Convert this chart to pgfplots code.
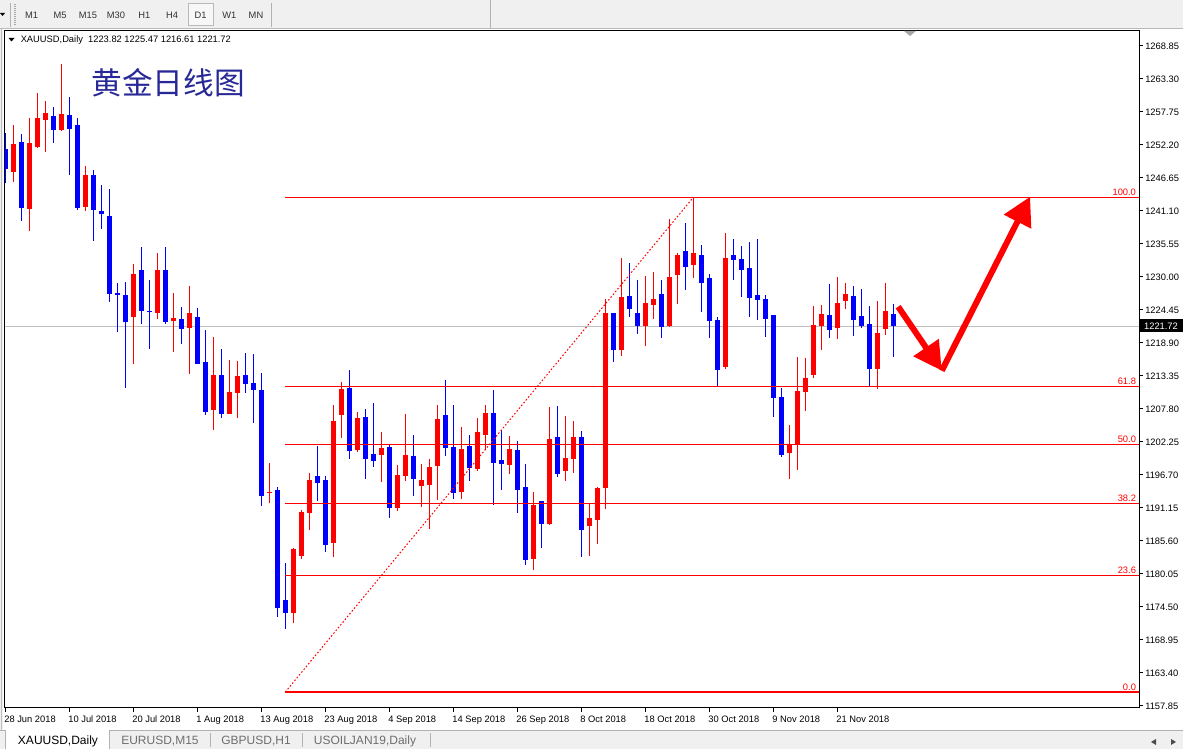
\documentclass[border=0pt]{standalone}
\usepackage{fontspec}
\setmainfont{Liberation Sans}
\newfontfamily\cjk{Noto Sans CJK SC}
\usepackage{pgfplots}
\pgfplotsset{compat=1.18}
\usepackage{pgfplotstable}
\usetikzlibrary{arrows.meta}
\definecolor{bull}{RGB}{255,0,0}
\definecolor{bear}{RGB}{0,0,255}
\definecolor{winbg}{RGB}{240,240,240}
\definecolor{bidgray}{RGB}{192,192,192}
\definecolor{titleblue}{RGB}{40,40,150}
\definecolor{tabgray}{RGB}{110,110,110}
\newcommand{\sm}{\fontsize{7}{8.4}\selectfont}

% bullish (red) candles: bar index, open, high, low, close
\pgfplotstableread{
k O H L C
1 1247.71 1255.56 1246.03 1252.37
3 1241.49 1256.74 1237.79 1252.54
4 1251.91 1260.95 1251.75 1256.74
5 1256.45 1259.60 1251.07 1257.58
7 1254.77 1265.82 1254.61 1257.41
10 1241.82 1248.67 1241.15 1247.15
16 1223.32 1232.19 1215.42 1230.50
19 1224.00 1234.04 1222.99 1231.18
21 1222.65 1227.31 1217.44 1223.10
23 1221.47 1228.49 1213.74 1223.94
26 1207.68 1219.91 1204.32 1213.52
28 1207.01 1216.04 1207.01 1210.66
29 1210.54 1215.87 1206.34 1213.35
33 1193.72 1198.67 1191.91 1193.90
36 1173.54 1184.37 1171.76 1184.25
37 1183.13 1190.81 1182.62 1190.48
38 1190.36 1197.04 1187.50 1195.86
41 1185.31 1208.47 1182.96 1205.78
42 1206.84 1212.34 1202.97 1211.16
44 1200.96 1207.30 1200.62 1206.29
47 1200.11 1203.93 1195.57 1201.24
49 1191.20 1198.38 1190.70 1196.70
50 1196.58 1207.01 1195.74 1200.06
52 1194.90 1198.55 1191.37 1195.86
53 1195.07 1199.39 1187.67 1198.05
54 1198.26 1208.47 1192.55 1206.12
57 1193.89 1204.77 1192.71 1201.07
59 1197.76 1206.29 1197.42 1203.93
60 1203.48 1208.47 1200.90 1207.13
63 1198.43 1203.26 1196.92 1201.07
66 1182.62 1193.89 1180.72 1191.70
68 1188.51 1208.14 1188.29 1202.75
70 1197.42 1206.62 1195.74 1199.56
71 1199.44 1205.78 1197.09 1203.09
73 1188.17 1191.99 1183.13 1189.47
74 1189.18 1194.73 1185.15 1194.56
75 1194.56 1226.30 1191.03 1223.94
77 1217.77 1233.20 1216.76 1226.64
80 1221.81 1230.17 1218.45 1225.63
81 1225.29 1230.84 1222.99 1226.30
83 1221.81 1239.75 1221.64 1230.00
84 1230.39 1234.04 1225.51 1233.70
86 1232.07 1243.40 1229.88 1234.04
90 1214.91 1237.40 1214.58 1233.20
98 1200.45 1205.11 1196.03 1201.91
99 1201.96 1216.55 1197.54 1210.83
100 1210.71 1216.38 1207.51 1213.01
101 1213.57 1225.12 1213.06 1221.93
102 1221.81 1225.29 1217.77 1223.78
104 1221.47 1230.00 1219.62 1225.63
105 1226.01 1228.99 1224.67 1227.14
109 1214.58 1225.96 1211.21 1220.58
110 1221.30 1228.99 1220.30 1224.28
}\bulltab

% bearish (blue) candles: bar index, open, high, low, close
\pgfplotstableread{
k O H L C
0 1251.48 1254.17 1245.76 1248.11
2 1252.70 1254.05 1239.47 1241.65
6 1257.08 1258.59 1252.59 1254.77
8 1257.25 1260.27 1247.21 1254.94
9 1255.56 1256.74 1241.32 1241.65
11 1247.15 1248.00 1236.10 1241.32
12 1241.15 1245.47 1238.12 1240.65
13 1240.26 1244.80 1225.85 1227.19
14 1227.36 1228.99 1220.80 1227.02
15 1227.02 1229.16 1211.28 1222.48
17 1231.18 1235.05 1222.10 1224.33
18 1224.33 1229.50 1217.94 1224.11
20 1231.18 1235.05 1222.15 1222.48
22 1222.94 1224.95 1218.78 1221.30
24 1223.27 1224.79 1215.42 1215.42
25 1215.70 1221.09 1206.84 1207.35
27 1213.52 1217.89 1206.34 1207.01
30 1213.52 1217.22 1210.54 1212.06
31 1212.17 1217.05 1205.50 1211.05
32 1210.99 1213.85 1191.54 1193.22
34 1194.18 1194.68 1172.87 1174.38
35 1175.68 1181.90 1170.75 1173.54
39 1196.53 1201.63 1192.38 1195.41
40 1195.86 1196.53 1183.80 1184.98
43 1211.38 1214.36 1199.44 1200.79
45 1206.45 1207.80 1196.08 1199.44
46 1200.23 1208.81 1198.10 1199.10
48 1201.41 1201.91 1189.52 1191.20
51 1199.90 1203.43 1193.22 1196.08
55 1206.79 1212.68 1199.95 1201.29
56 1201.41 1208.47 1192.71 1193.72
58 1201.63 1203.43 1195.74 1197.93
61 1207.13 1210.99 1191.70 1198.77
62 1199.27 1204.27 1194.23 1198.60
64 1200.90 1202.42 1190.36 1194.23
65 1194.68 1198.55 1181.61 1182.46
67 1192.33 1192.33 1184.47 1188.51
69 1203.09 1208.30 1196.41 1196.92
72 1203.09 1204.10 1182.96 1187.50
76 1223.94 1223.94 1215.75 1217.77
78 1226.80 1232.35 1223.32 1224.67
79 1223.94 1229.50 1220.46 1221.81
82 1227.14 1229.50 1219.79 1221.64
85 1234.37 1239.08 1227.86 1231.73
87 1233.70 1235.38 1224.16 1229.04
88 1229.83 1230.50 1219.79 1222.65
89 1222.77 1223.27 1211.72 1214.41
91 1233.70 1236.39 1229.55 1232.91
92 1233.03 1235.21 1226.69 1231.23
93 1231.51 1235.89 1223.32 1226.52
94 1226.97 1236.39 1222.82 1226.18
95 1226.30 1226.97 1219.96 1222.99
96 1223.61 1223.61 1206.51 1209.70
97 1209.82 1211.33 1199.78 1200.11
103 1223.61 1228.82 1219.79 1221.14
106 1226.80 1228.49 1220.13 1222.82
107 1223.44 1227.98 1221.47 1221.81
108 1222.10 1225.12 1211.72 1214.58
111 1223.82 1225.47 1216.61 1221.72
}\beartab

\begin{document}
\begin{tikzpicture}[x=0.75pt,y=0.75pt]
\path[use as bounding box] (0,0) rectangle (1183,749);
\fill[winbg] (0,0) rectangle (1183,749);
% toolbar
\draw[gray!55] (0,720.5) -- (1183,720.5);
\fill[black] (0,736) -- (5,736) -- (2.5,733) -- cycle;
\draw[gray!60] (10.5,722) -- (10.5,746);
\foreach \yy in {724,726,...,744} {\fill[gray!70] (14,\yy) rectangle (16,\yy+1);}
\draw[gray!60] (271.5,722) -- (271.5,746);
\draw[gray!60] (490.5,721) -- (490.5,749);
\draw[gray!55, fill=white!94!gray] (188,724) rectangle (213,746);
\foreach \xx/\lab in {31.7/M1, 60/M5, 88/M15, 116/M30, 144.3/H1, 172/H4, 200.7/D1, 229.3/W1, 256/MN}
  {\node[font=\sm, text=black!80] at (\xx,734) {\lab};}
% chart window
\fill[white] (3,19) rectangle (1183,720);
\draw[gray!50] (1.5,19) -- (1.5,721);
% bottom tab bar
\draw[gray!60] (0,18.5) -- (1183,18.5);
\fill[white] (5,0) rectangle (109,19);
\draw[gray!60] (5,0) -- (5,18.5) (109.5,0) -- (109.5,18.5);
\draw[gray!60] (210.5,2) -- (210.5,16) (302.5,2) -- (302.5,16) (430.5,2) -- (430.5,16);
\node[font=\fontsize{9}{10}\selectfont] at (58,7.5) {XAUUSD,Daily};
\node[font=\fontsize{9}{10}\selectfont, text=tabgray] at (160,7.5) {EURUSD,M15};
\node[font=\fontsize{9}{10}\selectfont, text=tabgray] at (256,7.5) {GBPUSD,H1};
\node[font=\fontsize{9}{10}\selectfont, text=tabgray] at (365,7.5) {USOILJAN19,Daily};
\fill[black!70] (1151,7) -- (1156,10) -- (1156,4) -- cycle;
\fill[black!70] (1176,7) -- (1171,10) -- (1171,4) -- cycle;

\begin{axis}[
  at={(3.375pt,30.75pt)}, anchor=south west,
  scale only axis, width=850.875pt, height=507.75pt,
  xmin=-0.1, xmax=141.7, ymin=1157.51, ymax=1271.37,
  axis line style={black, line width=0.75pt},
  tick align=outside, major tick length=3pt,
  tick style={black, line width=0.75pt},
  xtick pos=left, ytick pos=right, yticklabel pos=right,
  xtick={0,8,...,104},
  xticklabels={28 Jun 2018, 10 Jul 2018, 20 Jul 2018, 1 Aug 2018, 13 Aug 2018, 23 Aug 2018, 4 Sep 2018, 14 Sep 2018, 26 Sep 2018, 8 Oct 2018, 18 Oct 2018, 30 Oct 2018, 9 Nov 2018, 21 Nov 2018},
  ytick={1157.85,1163.40,1168.95,1174.50,1180.05,1185.60,1191.15,1196.70,1202.25,1207.80,1213.35,1218.90,1224.45,1230.00,1235.55,1241.10,1246.65,1252.20,1257.75,1263.30,1268.85},
  yticklabels={1157.85,1163.40,1168.95,1174.50,1180.05,1185.60,1191.15,1196.70,1202.25,1207.80,1213.35,1218.90,1224.45,1230.00,1235.55,1241.10,1246.65,1252.20,1257.75,1263.30,1268.85},
  xticklabel style={font=\sm, anchor=north west, inner sep=0pt, xshift=-0.9pt},
  xticklabel shift=2.5pt,
  yticklabel style={font=\sm, anchor=west, inner sep=0pt},
  yticklabel shift=1.5pt,
  minor tick num=0,
]
% bid line
\addplot[bidgray, line width=0.75pt, forget plot] coordinates {(-0.1,1221.72) (141.7,1221.72)};
% wicks
\addplot[draw=none, mark=none, forget plot, error bars/.cd, y dir=plus, y explicit, error mark=none,
  error bar style={draw=bull, line width=0.75pt}]
  table[x=k, y=L, y error expr=\thisrow{H}-\thisrow{L}] {\bulltab};
\addplot[draw=none, mark=none, forget plot, error bars/.cd, y dir=plus, y explicit, error mark=none,
  error bar style={draw=bear, line width=0.75pt}]
  table[x=k, y=L, y error expr=\thisrow{H}-\thisrow{L}] {\beartab};
% bodies
\addplot[draw=none, mark=none, forget plot, error bars/.cd, y dir=plus, y explicit, error mark=none,
  error bar style={draw=bull, line width=3.75pt}]
  table[x=k, y=O, y error expr=\thisrow{C}-\thisrow{O}] {\bulltab};
\addplot[draw=none, mark=none, forget plot, error bars/.cd, y dir=plus, y explicit, error mark=none,
  error bar style={draw=bear, line width=3.75pt}]
  table[x=k, y=C, y error expr=\thisrow{O}-\thisrow{C}] {\beartab};
% fibonacci levels
\addplot[bull, line width=0.75pt, forget plot] coordinates {(35,1243.40) (141.7,1243.40)};
\addplot[bull, line width=0.75pt, forget plot] coordinates {(35,1211.62) (141.7,1211.62)};
\addplot[bull, line width=0.75pt, forget plot] coordinates {(35,1201.80) (141.7,1201.80)};
\addplot[bull, line width=0.75pt, forget plot] coordinates {(35,1191.98) (141.7,1191.98)};
\addplot[bull, line width=0.75pt, forget plot] coordinates {(35,1179.84) (141.7,1179.84)};
\addplot[bull, line width=0.75pt, forget plot] coordinates {(35,1160.20) (141.7,1160.20)};
\addplot[bull, line width=0.75pt, dash pattern=on 1.2pt off 1.5pt, forget plot] coordinates {(35,1160.20) (86,1243.40)};
\node[anchor=south east, inner sep=0.6pt, yshift=0.6pt, text=bull, font=\sm] at (axis cs:141.45,1243.40) {100.0};
\node[anchor=south east, inner sep=0.6pt, yshift=0.6pt, text=bull, font=\sm] at (axis cs:141.45,1211.62) {61.8};
\node[anchor=south east, inner sep=0.6pt, yshift=0.6pt, text=bull, font=\sm] at (axis cs:141.45,1201.80) {50.0};
\node[anchor=south east, inner sep=0.6pt, yshift=0.6pt, text=bull, font=\sm] at (axis cs:141.45,1191.98) {38.2};
\node[anchor=south east, inner sep=0.6pt, yshift=0.6pt, text=bull, font=\sm] at (axis cs:141.45,1179.84) {23.6};
\node[anchor=south east, inner sep=0.6pt, yshift=0.6pt, text=bull, font=\sm] at (axis cs:141.45,1160.20) {0.0};
% hand drawn arrows
\draw[bull, line width=4.5pt, -{Triangle[length=21pt,width=22pt]}] (axis cs:111.6,1225.0) -- (axis cs:117.05,1214.24);
\draw[bull, line width=4.5pt, -{Triangle[length=21pt,width=22pt]}] (axis cs:117.05,1214.24) -- (axis cs:128.09,1243.5);
\end{axis}

% chart header and title
\fill[black] (8.5,711) -- (14.5,711) -- (11.5,707.5) -- cycle;
\node[anchor=west, font=\sm, inner sep=0pt] at (20.5,709) {XAUUSD,Daily\ \ 1223.82 1225.47 1216.61 1221.72};
\node[font=\cjk\fontsize{23}{26}\selectfont, text=titleblue] at (168,666) {黄金日线图};
\fill[gray!70] (904,718) -- (916,718) -- (910,713) -- cycle;
% current price box
\fill[black] (1139.5,416.5) rectangle (1183,429.5);
\node[font=\sm, text=white, inner sep=0pt] at (1161,423) {1221.72};
\end{tikzpicture}
\end{document}
